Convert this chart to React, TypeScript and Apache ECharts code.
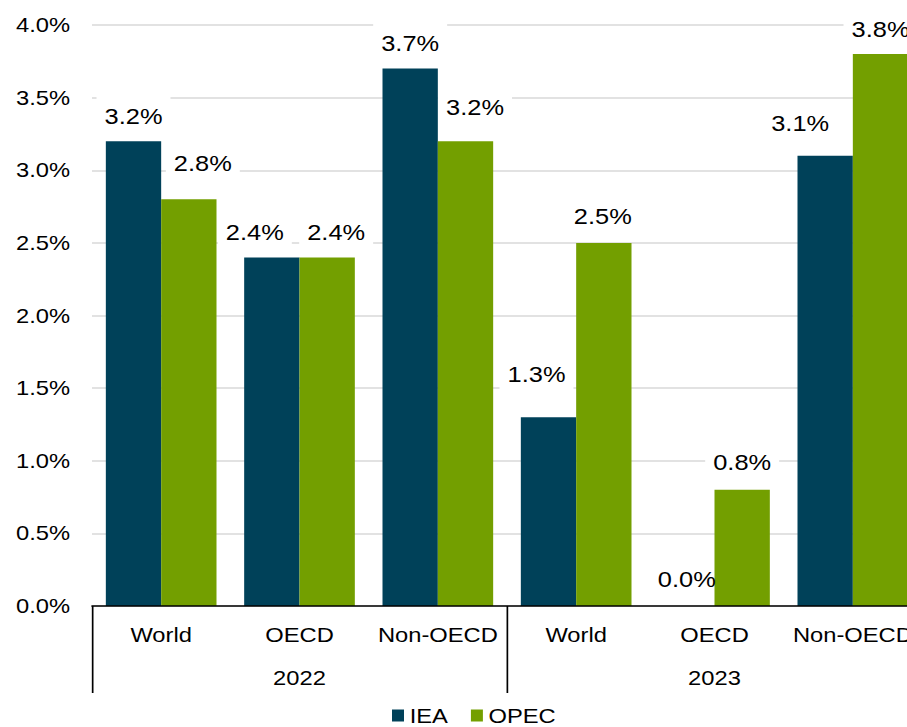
import React, { useEffect, useRef } from "react";
import * as echarts from "echarts";

// ---- data ----
const categories = ["World", "OECD", "Non-OECD", "World", "OECD", "Non-OECD"];
const years = ["2022", "2023"];
const seriesNames = ["IEA", "OPEC"];
const ieaValues = [3.2, 2.4, 3.7, 1.3, 0.0, 3.1];
const opecValues = [2.8, 2.4, 3.2, 2.5, 0.8, 3.8];
const yTicks = { min: 0, max: 4, step: 0.5 };

// ---- styling (not data) ----
const SX = 1.13; // horizontal stretch of the reference rendering
const VIEW_W = 907;
const H = 727;
const W = 940 / SX; // drawing surface is wider than the view; the plot runs past the right edge
const px = (x: number) => x / SX;
const FONT = "'Liberation Sans', Arial, Helvetica, sans-serif";
const COLORS = ["#004159", "#739F00"];
// manual label nudges [dx (reference px), dy]
const ieaLabelNudge: [number, number][] = [
  [0, 0], [-17, 0], [0, 0], [-12, -18], [0, -1], [-25, -7],
];
const opecLabelNudge: [number, number][] = [
  [14, -11], [9, 0], [9.5, -9], [-1, -1], [0, -2], [0, 0],
];

const fmt = (v: number) => v.toFixed(1) + "%";

export default function App() {
  const ref = useRef<HTMLDivElement>(null);
  useEffect(() => {
    if (!ref.current) return;
    const chart = echarts.init(ref.current, undefined, { renderer: "svg" });
    const labelBase = {
      show: true,
      position: "top",
      distance: 6,
      fontSize: 22.5,
      fontFamily: FONT,
      color: "#000",
      backgroundColor: "#fff",
      padding: [8, px(8)],
      formatter: (p: any) => fmt(p.value),
    };
    const mk = (vals: number[], nudge: [number, number][]) =>
      vals.map((v, i) => ({
        value: v,
        label: {
          offset: [px(nudge[i][0]), nudge[i][1]],
          // a zero bar's label sits beside the next bar; keep it see-through there
          ...(v === 0 ? { backgroundColor: "transparent" } : {}),
        },
      }));
    chart.setOption({
      animation: false,
      textStyle: { fontFamily: FONT },
      grid: { left: px(92), top: 25, width: px(830), height: 581, containLabel: false },
      legend: {
        data: seriesNames,
        left: px(392),
        top: 705,
        padding: 0,
        icon: "rect",
        itemWidth: px(12),
        itemHeight: 12,
        itemGap: px(23),
        textStyle: { fontSize: 21, color: "#000", fontFamily: FONT },
      },
      xAxis: [
        {
          type: "category",
          data: categories,
          position: "bottom",
          axisLine: { show: true, lineStyle: { color: "#000", width: 1.5 } },
          axisTick: { show: false },
          axisLabel: { interval: 0, fontSize: 21, color: "#000", margin: 18.5, fontFamily: FONT },
          splitLine: { show: false },
          z: 5,
        },
        {
          type: "category",
          data: years,
          position: "bottom",
          axisLine: { show: false },
          axisTick: {
            show: true,
            interval: 0,
            alignWithLabel: false,
            length: 87,
            lineStyle: { color: "#000", width: 1.5 },
          },
          axisLabel: { interval: 0, fontSize: 21, color: "#000", margin: 61.5, fontFamily: FONT },
          splitLine: { show: false },
        },
      ],
      yAxis: {
        type: "value",
        min: yTicks.min,
        max: yTicks.max,
        interval: yTicks.step,
        axisLine: { show: false },
        axisTick: { show: false },
        splitLine: { lineStyle: { color: "#d9d9d9", width: 1.5 } },
        axisLabel: {
          fontSize: 21,
          color: "#000",
          margin: px(22),
          fontFamily: FONT,
          formatter: (v: number) => fmt(v),
        },
      },
      series: [
        {
          name: seriesNames[0],
          type: "bar",
          xAxisIndex: 0,
          data: mk(ieaValues, ieaLabelNudge),
          barGap: "0%",
          barCategoryGap: "20%",
          itemStyle: { color: COLORS[0] },
          label: labelBase,
        },
        {
          name: seriesNames[1],
          type: "bar",
          xAxisIndex: 0,
          data: mk(opecValues, opecLabelNudge),
          barGap: "0%",
          barCategoryGap: "20%",
          itemStyle: { color: COLORS[1] },
          label: labelBase,
        },
      ],
    });
    return () => chart.dispose();
  }, []);
  return (
    <div
      style={{
        position: "fixed",
        left: 0,
        top: 0,
        width: VIEW_W,
        height: H,
        overflow: "hidden",
        background: "#fff",
      }}
    >
      <div
        ref={ref}
        style={{
          width: W,
          height: H,
          transform: `scaleX(${SX})`,
          transformOrigin: "0 0",
        }}
      />
    </div>
  );
}
